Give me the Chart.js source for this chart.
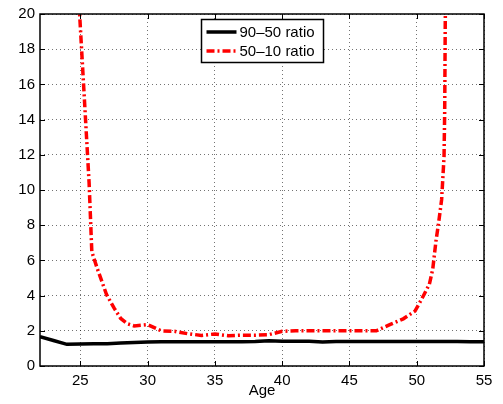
<!DOCTYPE html>
<html>
<head>
<meta charset="utf-8">
<script src="https://cdn.jsdelivr.net/npm/chart.js@4.4.1/dist/chart.umd.min.js"></script>
<style>
    body { margin: 0; background: #fff; }
    canvas { display: block; }
</style>
</head>
<body>
<canvas id="ratioChart" width="503" height="404"></canvas>
<script>
// 90-50 ratio by age
const ages9050 = [22, 23, 24, 25, 26, 27, 28, 29, 30, 31, 32, 33, 34, 35, 36, 37, 38, 39, 40, 41, 42, 43, 44, 45, 46, 47, 48, 49, 50, 51, 52, 53, 54, 55];
const ratio9050 = [1.66, 1.45, 1.23, 1.25, 1.26, 1.27, 1.3, 1.33, 1.36, 1.38, 1.38, 1.38, 1.38, 1.38, 1.38, 1.38, 1.39, 1.43, 1.4, 1.4, 1.4, 1.37, 1.39, 1.39, 1.39, 1.39, 1.39, 1.39, 1.39, 1.39, 1.39, 1.39, 1.38, 1.38];

// 50-10 ratio by age (goes off the top near 25 and 52)
const ages5010 = [24.9, 25.65, 25.85, 26.25, 26.6, 26.95, 27.5, 28, 28.5, 29, 30, 31, 32, 33, 34, 35, 36, 37, 38, 39, 40, 41, 42, 43, 44, 45, 46, 47, 48, 49, 49.87, 50.37, 50.94, 51.19, 51.43, 51.63, 51.85, 52.03, 52.08, 52.12, 52.14];
const ratio5010 = [20.6, 10.4, 6.5, 5.55, 4.8, 4.05, 3.3, 2.7, 2.4, 2.28, 2.35, 2.0, 1.97, 1.83, 1.74, 1.82, 1.72, 1.75, 1.75, 1.78, 1.97, 2.0, 2.0, 2.0, 2.0, 2.0, 2.0, 2.0, 2.35, 2.68, 3.12, 3.8, 4.65, 5.5, 7.1, 8.15, 9.45, 11.9, 14.55, 19.5, 20.6];

const seriesLabels = ['90\u201350 ratio', '50\u201310 ratio'];
const xTicks = [25, 30, 35, 40, 45, 50, 55];
const yTicks = [0, 2, 4, 6, 8, 10, 12, 14, 16, 18, 20];

const fontFamily = "'Liberation Sans', Arial, Helvetica, sans-serif";

function toPoints(xs, ys) {
    return xs.map((x, i) => ({ x: x, y: ys[i] }));
}

// box round the plot, inward ticks and the legend
const framePlugin = {
    id: 'frame',
    afterDraw(chart) {
        const ctx = chart.ctx;
        const a = chart.chartArea;
        const x = chart.scales.x;
        const y = chart.scales.y;
        ctx.save();
        ctx.strokeStyle = '#000';
        ctx.lineWidth = 1;
        ctx.beginPath();
        xTicks.forEach(v => {
            const px = Math.round(x.getPixelForValue(v)) + 0.5;
            ctx.moveTo(px, a.bottom); ctx.lineTo(px, a.bottom - 5);
            ctx.moveTo(px, a.top); ctx.lineTo(px, a.top + 5);
        });
        yTicks.forEach(v => {
            const py = Math.round(y.getPixelForValue(v)) + 0.5;
            ctx.moveTo(a.left, py); ctx.lineTo(a.left + 5, py);
            ctx.moveTo(a.right, py); ctx.lineTo(a.right - 5, py);
        });
        ctx.stroke();
        ctx.lineWidth = 1.5;
        ctx.strokeRect(a.left, a.top, a.right - a.left, a.bottom - a.top);

        // legend
        const lx = a.left + 161.5;
        const ly = a.top + 5.5;
        ctx.fillStyle = '#fff';
        ctx.fillRect(lx, ly, 122, 43);
        ctx.lineWidth = 1.5;
        ctx.strokeRect(lx, ly, 122, 43);
        ctx.font = '15px ' + fontFamily;
        ctx.textBaseline = 'middle';
        chart.data.datasets.forEach((ds, i) => {
            const ry = ly + 12.5 + i * 19;
            ctx.beginPath();
            ctx.strokeStyle = ds.borderColor;
            ctx.lineWidth = ds.borderWidth;
            ctx.setLineDash(ds.borderDash || []);
            ctx.moveTo(lx + 5, ry);
            ctx.lineTo(lx + 35, ry);
            ctx.stroke();
            ctx.setLineDash([]);
            ctx.fillStyle = '#000';
            ctx.fillText(ds.label, lx + 38, ry + 1);
        });
        ctx.restore();
    }
};

new Chart(document.getElementById('ratioChart'), {
    type: 'line',
    data: {
        datasets: [{
            label: seriesLabels[0],
            data: toPoints(ages9050, ratio9050),
            borderColor: '#000000',
            borderWidth: 3.5,
            pointRadius: 0,
            tension: 0
        }, {
            label: seriesLabels[1],
            data: toPoints(ages5010, ratio5010),
            borderColor: '#ff0000',
            borderWidth: 3.5,
            borderDash: [8, 3, 2, 3],
            pointRadius: 0,
            tension: 0
        }]
    },
    options: {
        responsive: false,
        animation: false,
        devicePixelRatio: 1,
        layout: { padding: { top: 14, right: 19, left: 0, bottom: 0 } },
        plugins: {
            legend: { display: false },
            tooltip: { enabled: false }
        },
        scales: {
            x: {
                type: 'linear',
                min: 22,
                max: 55,
                afterBuildTicks: scale => { scale.ticks = xTicks.map(v => ({ value: v })); },
                afterFit: scale => { scale.height = 38; },
                grid: { color: 'rgba(0,0,0,0.55)', lineWidth: 1, drawTicks: false },
                border: { display: false, dash: [1, 3] },
                ticks: { color: '#000', padding: 6, maxRotation: 0, font: { family: fontFamily, size: 15 } },
                title: { display: true, text: 'Age', color: '#000', padding: { top: 0, bottom: 4 }, font: { family: fontFamily, size: 15 } }
            },
            y: {
                min: 0,
                max: 20,
                afterBuildTicks: scale => { scale.ticks = yTicks.map(v => ({ value: v })); },
                afterFit: scale => { scale.width = 40; },
                grid: { color: 'rgba(0,0,0,0.55)', lineWidth: 1, drawTicks: false },
                border: { display: false, dash: [1, 3] },
                ticks: { color: '#000', padding: 5, font: { family: fontFamily, size: 15 } }
            }
        }
    },
    plugins: [framePlugin]
});
</script>
</body>
</html>
